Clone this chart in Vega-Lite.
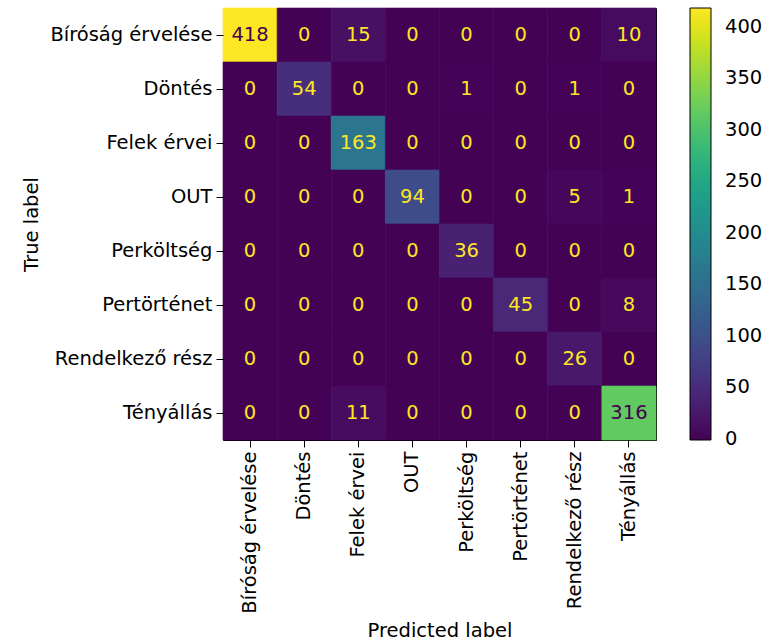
{
  "$schema": "https://vega.github.io/schema/vega-lite/v6.json",
  "autosize": {"type": "none"},
  "padding": {"left": 223, "top": 8, "right": 110, "bottom": 201},
  "width": 433,
  "height": 432,
  "config": {
    "font": "DejaVu Sans",
    "view": {"stroke": "black", "strokeWidth": 1},
    "axis": {"grid": false, "domain": false, "tickColor": "black", "tickSize": 7, "labelFontSize": 19.5, "labelColor": "black", "titleFontSize": 19.5, "titleFontWeight": "normal", "titleColor": "black", "labelPadding": 4}
  },
  "data": {"values": [
    {"t":"Bíróság érvelése","p":"Bíróság érvelése","n":418},{"t":"Bíróság érvelése","p":"Döntés","n":0},{"t":"Bíróság érvelése","p":"Felek érvei","n":15},{"t":"Bíróság érvelése","p":"OUT","n":0},{"t":"Bíróság érvelése","p":"Perköltség","n":0},{"t":"Bíróság érvelése","p":"Pertörténet","n":0},{"t":"Bíróság érvelése","p":"Rendelkező rész","n":0},{"t":"Bíróság érvelése","p":"Tényállás","n":10},
    {"t":"Döntés","p":"Bíróság érvelése","n":0},{"t":"Döntés","p":"Döntés","n":54},{"t":"Döntés","p":"Felek érvei","n":0},{"t":"Döntés","p":"OUT","n":0},{"t":"Döntés","p":"Perköltség","n":1},{"t":"Döntés","p":"Pertörténet","n":0},{"t":"Döntés","p":"Rendelkező rész","n":1},{"t":"Döntés","p":"Tényállás","n":0},
    {"t":"Felek érvei","p":"Bíróság érvelése","n":0},{"t":"Felek érvei","p":"Döntés","n":0},{"t":"Felek érvei","p":"Felek érvei","n":163},{"t":"Felek érvei","p":"OUT","n":0},{"t":"Felek érvei","p":"Perköltség","n":0},{"t":"Felek érvei","p":"Pertörténet","n":0},{"t":"Felek érvei","p":"Rendelkező rész","n":0},{"t":"Felek érvei","p":"Tényállás","n":0},
    {"t":"OUT","p":"Bíróság érvelése","n":0},{"t":"OUT","p":"Döntés","n":0},{"t":"OUT","p":"Felek érvei","n":0},{"t":"OUT","p":"OUT","n":94},{"t":"OUT","p":"Perköltség","n":0},{"t":"OUT","p":"Pertörténet","n":0},{"t":"OUT","p":"Rendelkező rész","n":5},{"t":"OUT","p":"Tényállás","n":1},
    {"t":"Perköltség","p":"Bíróság érvelése","n":0},{"t":"Perköltség","p":"Döntés","n":0},{"t":"Perköltség","p":"Felek érvei","n":0},{"t":"Perköltség","p":"OUT","n":0},{"t":"Perköltség","p":"Perköltség","n":36},{"t":"Perköltség","p":"Pertörténet","n":0},{"t":"Perköltség","p":"Rendelkező rész","n":0},{"t":"Perköltség","p":"Tényállás","n":0},
    {"t":"Pertörténet","p":"Bíróság érvelése","n":0},{"t":"Pertörténet","p":"Döntés","n":0},{"t":"Pertörténet","p":"Felek érvei","n":0},{"t":"Pertörténet","p":"OUT","n":0},{"t":"Pertörténet","p":"Perköltség","n":0},{"t":"Pertörténet","p":"Pertörténet","n":45},{"t":"Pertörténet","p":"Rendelkező rész","n":0},{"t":"Pertörténet","p":"Tényállás","n":8},
    {"t":"Rendelkező rész","p":"Bíróság érvelése","n":0},{"t":"Rendelkező rész","p":"Döntés","n":0},{"t":"Rendelkező rész","p":"Felek érvei","n":0},{"t":"Rendelkező rész","p":"OUT","n":0},{"t":"Rendelkező rész","p":"Perköltség","n":0},{"t":"Rendelkező rész","p":"Pertörténet","n":0},{"t":"Rendelkező rész","p":"Rendelkező rész","n":26},{"t":"Rendelkező rész","p":"Tényállás","n":0},
    {"t":"Tényállás","p":"Bíróság érvelése","n":0},{"t":"Tényállás","p":"Döntés","n":0},{"t":"Tényállás","p":"Felek érvei","n":11},{"t":"Tényállás","p":"OUT","n":0},{"t":"Tényállás","p":"Perköltség","n":0},{"t":"Tényállás","p":"Pertörténet","n":0},{"t":"Tényállás","p":"Rendelkező rész","n":0},{"t":"Tényállás","p":"Tényállás","n":316}
  ]},
  "encoding": {
    "x": {"field": "p", "type": "nominal", "sort": null, "title": "Predicted label",
          "scale": {"paddingInner": 0, "paddingOuter": 0},
          "axis": {"labelAngle": -90, "titlePadding": 8}},
    "y": {"field": "t", "type": "nominal", "sort": null, "title": "True label",
          "scale": {"paddingInner": 0, "paddingOuter": 0},
          "axis": {"titlePadding": 8}}
  },
  "resolve": {"legend": {"stroke": "independent"}, "scale": {"stroke": "independent"}},
  "layer": [
    {
      "mark": {"type": "rect", "strokeWidth": 0.6},
      "encoding": {
        "color": {"field": "n", "type": "quantitative",
                  "scale": {"scheme": "viridis", "domain": [-1, 418]},
                  "legend": {"title": null, "orient": "right", "offset": 34, "padding": 0,
                             "gradientLength": 432, "gradientThickness": 21,
                             "gradientStrokeColor": "black", "gradientStrokeWidth": 1,
                             "values": [0, 50, 100, 150, 200, 250, 300, 350, 400],
                             "labelFontSize": 19.5, "labelColor": "black", "labelOffset": 14,
                             "labelBaseline": "middle", "labelOverlap": false}},
        "stroke": {"field": "n", "type": "quantitative",
                   "scale": {"scheme": "viridis", "domain": [-1, 418]},
                   "legend": null}
      }
    },
    {
      "mark": {"type": "text", "fontSize": 19.5},
      "encoding": {
        "text": {"field": "n", "type": "quantitative"},
        "color": {"condition": {"test": "datum.n > 209", "value": "#440154"}, "value": "#fde725"}
      }
    }
  ]
}
